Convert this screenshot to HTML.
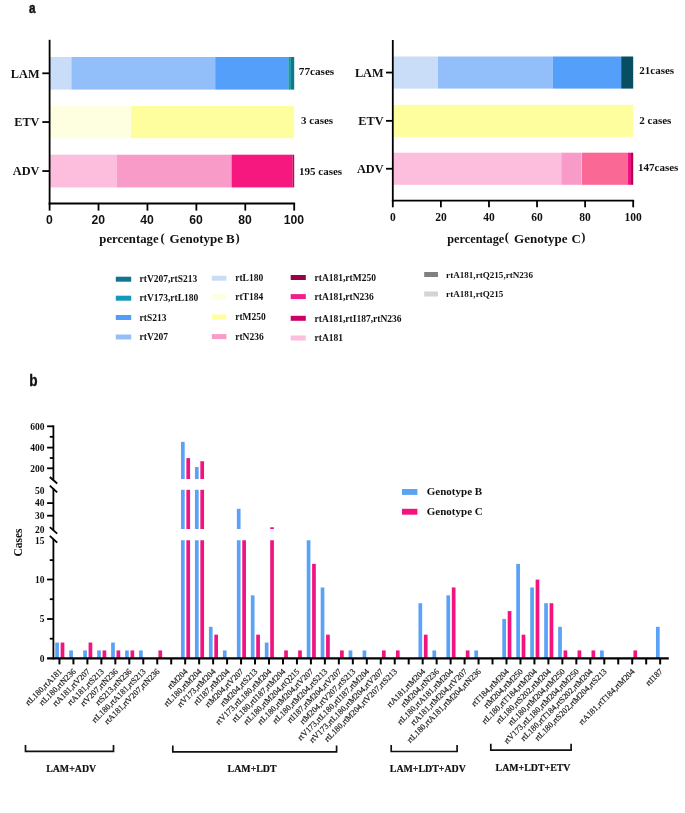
<!DOCTYPE html>
<html><head><meta charset="utf-8"><title>Genotype mutation patterns</title>
<style>
html,body{margin:0;padding:0;background:#fff;}
body{width:685px;height:813px;overflow:hidden;font-family:"Liberation Serif", serif;}
svg{display:block;will-change:transform;}
</style></head>
<body>
<svg width="685" height="813" viewBox="0 0 685 813">
<rect x="0" y="0" width="685" height="813" fill="#fff"/>
<text x="0.00" y="0.00" font-family='"Liberation Sans", sans-serif' font-size="14.6" font-weight="bold" text-anchor="start" fill="#111" stroke="#111" stroke-width="0.5" transform="translate(28.9,12.7) scale(0.8,1)">a</text>
<text x="0.00" y="0.00" font-family='"Liberation Sans", sans-serif' font-size="16" font-weight="bold" text-anchor="start" fill="#111" stroke="#111" stroke-width="0.35" transform="translate(29.3,385.8) scale(0.85,1)">b</text>
<rect x="49.60" y="57.00" width="21.77" height="32.60" fill="#c9ddf8"/>
<rect x="71.37" y="57.00" width="143.82" height="32.60" fill="#92bff9"/>
<rect x="215.19" y="57.00" width="73.14" height="32.60" fill="#549ffa"/>
<rect x="288.33" y="57.00" width="2.57" height="32.60" fill="#1697ad"/>
<rect x="290.90" y="57.00" width="3.30" height="32.60" fill="#0f7790"/>
<rect x="49.60" y="105.90" width="81.45" height="32.30" fill="#fefee0"/>
<rect x="131.05" y="105.90" width="163.15" height="32.30" fill="#fefe9e"/>
<rect x="49.60" y="154.70" width="67.27" height="32.70" fill="#fdbedd"/>
<rect x="116.87" y="154.70" width="114.72" height="32.70" fill="#f99bc9"/>
<rect x="231.58" y="154.70" width="60.91" height="32.70" fill="#f6177f"/>
<rect x="292.49" y="154.70" width="1.71" height="32.70" fill="#c4005a"/>
<line x1="49.60" y1="39.80" x2="49.60" y2="204.40" stroke="#000" stroke-width="1.8" stroke-linecap="butt"/>
<line x1="48.70" y1="203.50" x2="295.10" y2="203.50" stroke="#000" stroke-width="1.8" stroke-linecap="butt"/>
<line x1="49.60" y1="203.50" x2="49.60" y2="210.60" stroke="#000" stroke-width="1.8" stroke-linecap="butt"/>
<text x="49.30" y="223.80" font-family='"Liberation Sans", sans-serif' font-size="12.2" font-weight="bold" text-anchor="middle" fill="#111" >0</text>
<line x1="98.52" y1="203.50" x2="98.52" y2="210.60" stroke="#000" stroke-width="1.8" stroke-linecap="butt"/>
<text x="98.22" y="223.80" font-family='"Liberation Sans", sans-serif' font-size="12.2" font-weight="bold" text-anchor="middle" fill="#111" >20</text>
<line x1="147.44" y1="203.50" x2="147.44" y2="210.60" stroke="#000" stroke-width="1.8" stroke-linecap="butt"/>
<text x="147.14" y="223.80" font-family='"Liberation Sans", sans-serif' font-size="12.2" font-weight="bold" text-anchor="middle" fill="#111" >40</text>
<line x1="196.36" y1="203.50" x2="196.36" y2="210.60" stroke="#000" stroke-width="1.8" stroke-linecap="butt"/>
<text x="196.06" y="223.80" font-family='"Liberation Sans", sans-serif' font-size="12.2" font-weight="bold" text-anchor="middle" fill="#111" >60</text>
<line x1="245.28" y1="203.50" x2="245.28" y2="210.60" stroke="#000" stroke-width="1.8" stroke-linecap="butt"/>
<text x="244.98" y="223.80" font-family='"Liberation Sans", sans-serif' font-size="12.2" font-weight="bold" text-anchor="middle" fill="#111" >80</text>
<line x1="294.20" y1="203.50" x2="294.20" y2="210.60" stroke="#000" stroke-width="1.8" stroke-linecap="butt"/>
<text x="293.90" y="223.80" font-family='"Liberation Sans", sans-serif' font-size="12.2" font-weight="bold" text-anchor="middle" fill="#111" >100</text>
<line x1="42.30" y1="73.30" x2="49.60" y2="73.30" stroke="#000" stroke-width="1.8" stroke-linecap="butt"/>
<text x="39.50" y="77.50" font-family='"Liberation Serif", serif' font-size="12.3" font-weight="bold" text-anchor="end" fill="#111" >LAM</text>
<line x1="42.30" y1="122.05" x2="49.60" y2="122.05" stroke="#000" stroke-width="1.8" stroke-linecap="butt"/>
<text x="39.50" y="126.25" font-family='"Liberation Serif", serif' font-size="12.3" font-weight="bold" text-anchor="end" fill="#111" >ETV</text>
<line x1="42.30" y1="171.05" x2="49.60" y2="171.05" stroke="#000" stroke-width="1.8" stroke-linecap="butt"/>
<text x="39.50" y="175.25" font-family='"Liberation Serif", serif' font-size="12.3" font-weight="bold" text-anchor="end" fill="#111" >ADV</text>
<text x="298.80" y="75.00" font-family='"Liberation Serif", serif' font-size="11.2" font-weight="bold" text-anchor="start" fill="#111" >77cases</text>
<text x="301.00" y="124.20" font-family='"Liberation Serif", serif' font-size="11" font-weight="bold" text-anchor="start" fill="#111" >3 cases</text>
<text x="299.00" y="175.20" font-family='"Liberation Serif", serif' font-size="11" font-weight="bold" text-anchor="start" fill="#111" >195 cases</text>
<text x="99.30" y="243.40" font-family='"Liberation Serif", serif' font-size="12.75" font-weight="bold" text-anchor="start" fill="#111" >percentage</text>
<text x="160.60" y="241.60" font-family='"Liberation Serif", serif' font-size="12.5" font-weight="bold" text-anchor="start" fill="#111" >(</text>
<text x="169.60" y="243.40" font-family='"Liberation Serif", serif' font-size="13" font-weight="bold" text-anchor="start" fill="#111" >Genotype</text>
<text x="226.00" y="243.40" font-family='"Liberation Serif", serif' font-size="13" font-weight="bold" text-anchor="start" fill="#111" >B</text>
<text x="235.40" y="241.60" font-family='"Liberation Serif", serif' font-size="12.5" font-weight="bold" text-anchor="start" fill="#111" >)</text>
<rect x="392.80" y="56.50" width="45.20" height="32.10" fill="#c9ddf8"/>
<rect x="438.00" y="56.50" width="114.67" height="32.10" fill="#92bff9"/>
<rect x="552.67" y="56.50" width="68.51" height="32.10" fill="#549ffa"/>
<rect x="621.18" y="56.50" width="12.02" height="32.10" fill="#074e62"/>
<rect x="392.80" y="104.80" width="240.40" height="32.10" fill="#fefe9e"/>
<rect x="392.80" y="152.70" width="168.52" height="32.10" fill="#fdbedd"/>
<rect x="561.32" y="152.70" width="19.71" height="32.10" fill="#f99bc9"/>
<rect x="581.03" y="152.70" width="0.96" height="32.10" fill="#d0d0d0"/>
<rect x="581.99" y="152.70" width="45.92" height="32.10" fill="#fa6896"/>
<rect x="627.91" y="152.70" width="3.13" height="32.10" fill="#ee1283"/>
<rect x="631.04" y="152.70" width="2.16" height="32.10" fill="#b0004c"/>
<line x1="392.80" y1="40.00" x2="392.80" y2="201.50" stroke="#000" stroke-width="1.8" stroke-linecap="butt"/>
<line x1="391.90" y1="200.60" x2="634.10" y2="200.60" stroke="#000" stroke-width="1.8" stroke-linecap="butt"/>
<line x1="392.80" y1="200.60" x2="392.80" y2="207.30" stroke="#000" stroke-width="1.8" stroke-linecap="butt"/>
<text x="392.80" y="220.70" font-family='"Liberation Serif", serif' font-size="11.5" font-weight="bold" text-anchor="middle" fill="#111" >0</text>
<line x1="440.88" y1="200.60" x2="440.88" y2="207.30" stroke="#000" stroke-width="1.8" stroke-linecap="butt"/>
<text x="440.88" y="220.70" font-family='"Liberation Serif", serif' font-size="11.5" font-weight="bold" text-anchor="middle" fill="#111" >20</text>
<line x1="488.96" y1="200.60" x2="488.96" y2="207.30" stroke="#000" stroke-width="1.8" stroke-linecap="butt"/>
<text x="488.96" y="220.70" font-family='"Liberation Serif", serif' font-size="11.5" font-weight="bold" text-anchor="middle" fill="#111" >40</text>
<line x1="537.04" y1="200.60" x2="537.04" y2="207.30" stroke="#000" stroke-width="1.8" stroke-linecap="butt"/>
<text x="537.04" y="220.70" font-family='"Liberation Serif", serif' font-size="11.5" font-weight="bold" text-anchor="middle" fill="#111" >60</text>
<line x1="585.12" y1="200.60" x2="585.12" y2="207.30" stroke="#000" stroke-width="1.8" stroke-linecap="butt"/>
<text x="585.12" y="220.70" font-family='"Liberation Serif", serif' font-size="11.5" font-weight="bold" text-anchor="middle" fill="#111" >80</text>
<line x1="633.20" y1="200.60" x2="633.20" y2="207.30" stroke="#000" stroke-width="1.8" stroke-linecap="butt"/>
<text x="633.20" y="220.70" font-family='"Liberation Serif", serif' font-size="11.5" font-weight="bold" text-anchor="middle" fill="#111" >100</text>
<line x1="386.00" y1="72.55" x2="392.80" y2="72.55" stroke="#000" stroke-width="1.8" stroke-linecap="butt"/>
<text x="383.60" y="76.75" font-family='"Liberation Serif", serif' font-size="12.3" font-weight="bold" text-anchor="end" fill="#111" >LAM</text>
<line x1="386.00" y1="120.85" x2="392.80" y2="120.85" stroke="#000" stroke-width="1.8" stroke-linecap="butt"/>
<text x="383.60" y="125.05" font-family='"Liberation Serif", serif' font-size="12.3" font-weight="bold" text-anchor="end" fill="#111" >ETV</text>
<line x1="386.00" y1="168.75" x2="392.80" y2="168.75" stroke="#000" stroke-width="1.8" stroke-linecap="butt"/>
<text x="383.60" y="172.95" font-family='"Liberation Serif", serif' font-size="12.3" font-weight="bold" text-anchor="end" fill="#111" >ADV</text>
<text x="639.30" y="74.30" font-family='"Liberation Serif", serif' font-size="11" font-weight="bold" text-anchor="start" fill="#111" >21cases</text>
<text x="639.30" y="124.00" font-family='"Liberation Serif", serif' font-size="11" font-weight="bold" text-anchor="start" fill="#111" >2 cases</text>
<text x="638.00" y="171.30" font-family='"Liberation Serif", serif' font-size="11" font-weight="bold" text-anchor="start" fill="#111" >147cases</text>
<text x="447.30" y="243.20" font-family='"Liberation Serif", serif' font-size="12.25" font-weight="bold" text-anchor="start" fill="#111" >percentage</text>
<text x="504.80" y="241.40" font-family='"Liberation Serif", serif' font-size="12.5" font-weight="bold" text-anchor="start" fill="#111" >(</text>
<text x="514.10" y="243.20" font-family='"Liberation Serif", serif' font-size="13" font-weight="bold" text-anchor="start" fill="#111" >Genotype</text>
<text x="571.40" y="243.20" font-family='"Liberation Serif", serif' font-size="13" font-weight="bold" text-anchor="start" fill="#111" >C</text>
<text x="581.30" y="241.40" font-family='"Liberation Serif", serif' font-size="12.5" font-weight="bold" text-anchor="start" fill="#111" >)</text>
<rect x="115.80" y="276.70" width="15.40" height="5.00" fill="#0f7590"/>
<text x="139.50" y="282.40" font-family='"Liberation Serif", serif' font-size="9.5" font-weight="bold" text-anchor="start" fill="#111" >rtV207,rtS213</text>
<rect x="115.80" y="295.70" width="15.40" height="5.00" fill="#1498bb"/>
<text x="139.50" y="301.40" font-family='"Liberation Serif", serif' font-size="9.5" font-weight="bold" text-anchor="start" fill="#111" >rtV173,rtL180</text>
<rect x="115.80" y="315.00" width="15.40" height="5.00" fill="#529df8"/>
<text x="139.50" y="320.70" font-family='"Liberation Serif", serif' font-size="9.5" font-weight="bold" text-anchor="start" fill="#111" >rtS213</text>
<rect x="115.80" y="334.50" width="15.40" height="5.00" fill="#93bff6"/>
<text x="139.50" y="340.20" font-family='"Liberation Serif", serif' font-size="9.5" font-weight="bold" text-anchor="start" fill="#111" >rtV207</text>
<rect x="211.80" y="275.70" width="14.60" height="5.00" fill="#c9ddf8"/>
<text x="235.20" y="281.40" font-family='"Liberation Serif", serif' font-size="9.5" font-weight="bold" text-anchor="start" fill="#111" >rtL180</text>
<rect x="211.80" y="294.50" width="14.60" height="5.00" fill="#fefee0"/>
<text x="235.20" y="300.20" font-family='"Liberation Serif", serif' font-size="9.5" font-weight="bold" text-anchor="start" fill="#111" >rtT184</text>
<rect x="211.80" y="314.50" width="14.60" height="5.00" fill="#fefe9e"/>
<text x="235.20" y="320.20" font-family='"Liberation Serif", serif' font-size="9.5" font-weight="bold" text-anchor="start" fill="#111" >rtM250</text>
<rect x="211.80" y="334.10" width="14.60" height="5.00" fill="#f99bc9"/>
<text x="235.20" y="339.80" font-family='"Liberation Serif", serif' font-size="9.5" font-weight="bold" text-anchor="start" fill="#111" >rtN236</text>
<rect x="290.70" y="275.00" width="15.10" height="5.00" fill="#990047"/>
<text x="314.50" y="280.70" font-family='"Liberation Serif", serif' font-size="9.5" font-weight="bold" text-anchor="start" fill="#111" >rtA181,rtM250</text>
<rect x="290.70" y="294.10" width="15.10" height="5.00" fill="#f01d8c"/>
<text x="314.50" y="299.80" font-family='"Liberation Serif", serif' font-size="9.5" font-weight="bold" text-anchor="start" fill="#111" >rtA181,rtN236</text>
<rect x="290.70" y="315.80" width="15.10" height="5.00" fill="#cc0066"/>
<text x="314.50" y="321.50" font-family='"Liberation Serif", serif' font-size="9.5" font-weight="bold" text-anchor="start" fill="#111" >rtA181,rtI187,rtN236</text>
<rect x="290.70" y="335.50" width="15.10" height="5.00" fill="#fdbedd"/>
<text x="314.50" y="341.20" font-family='"Liberation Serif", serif' font-size="9.5" font-weight="bold" text-anchor="start" fill="#111" >rtA181</text>
<rect x="424.20" y="272.00" width="13.80" height="5.00" fill="#808080"/>
<text x="446.10" y="277.70" font-family='"Liberation Serif", serif' font-size="9.1" font-weight="bold" text-anchor="start" fill="#111" >rtA181,rtQ215,rtN236</text>
<rect x="424.20" y="291.50" width="13.80" height="5.00" fill="#d4d4d4"/>
<text x="446.10" y="297.20" font-family='"Liberation Serif", serif' font-size="9.1" font-weight="bold" text-anchor="start" fill="#111" >rtA181,rtQ215</text>
<rect x="55.25" y="642.56" width="3.70" height="15.74" fill="#5aa2f7"/>
<rect x="60.65" y="642.56" width="3.70" height="15.74" fill="#f2137f"/>
<rect x="69.22" y="650.43" width="3.70" height="7.87" fill="#5aa2f7"/>
<rect x="83.19" y="650.43" width="3.70" height="7.87" fill="#5aa2f7"/>
<rect x="88.59" y="642.56" width="3.70" height="15.74" fill="#f2137f"/>
<rect x="97.16" y="650.43" width="3.70" height="7.87" fill="#5aa2f7"/>
<rect x="102.56" y="650.43" width="3.70" height="7.87" fill="#f2137f"/>
<rect x="111.13" y="642.56" width="3.70" height="15.74" fill="#5aa2f7"/>
<rect x="116.53" y="650.43" width="3.70" height="7.87" fill="#f2137f"/>
<rect x="125.10" y="650.43" width="3.70" height="7.87" fill="#5aa2f7"/>
<rect x="130.50" y="650.43" width="3.70" height="7.87" fill="#f2137f"/>
<rect x="139.07" y="650.43" width="3.70" height="7.87" fill="#5aa2f7"/>
<rect x="158.44" y="650.43" width="3.70" height="7.87" fill="#f2137f"/>
<rect x="180.98" y="540.25" width="3.70" height="118.05" fill="#5aa2f7"/>
<rect x="180.98" y="489.80" width="3.70" height="39.20" fill="#5aa2f7"/>
<rect x="180.98" y="441.87" width="3.70" height="37.13" fill="#5aa2f7"/>
<rect x="186.38" y="540.25" width="3.70" height="118.05" fill="#f2137f"/>
<rect x="186.38" y="489.80" width="3.70" height="39.20" fill="#f2137f"/>
<rect x="186.38" y="458.09" width="3.70" height="20.91" fill="#f2137f"/>
<rect x="194.95" y="540.25" width="3.70" height="118.05" fill="#5aa2f7"/>
<rect x="194.95" y="489.80" width="3.70" height="39.20" fill="#5aa2f7"/>
<rect x="194.95" y="467.04" width="3.70" height="11.96" fill="#5aa2f7"/>
<rect x="200.35" y="540.25" width="3.70" height="118.05" fill="#f2137f"/>
<rect x="200.35" y="489.80" width="3.70" height="39.20" fill="#f2137f"/>
<rect x="200.35" y="461.24" width="3.70" height="17.76" fill="#f2137f"/>
<rect x="208.92" y="626.82" width="3.70" height="31.48" fill="#5aa2f7"/>
<rect x="214.32" y="634.69" width="3.70" height="23.61" fill="#f2137f"/>
<rect x="222.89" y="650.43" width="3.70" height="7.87" fill="#5aa2f7"/>
<rect x="236.86" y="540.25" width="3.70" height="118.05" fill="#5aa2f7"/>
<rect x="236.86" y="508.80" width="3.70" height="20.20" fill="#5aa2f7"/>
<rect x="242.26" y="540.25" width="3.70" height="118.05" fill="#f2137f"/>
<rect x="250.83" y="595.34" width="3.70" height="62.96" fill="#5aa2f7"/>
<rect x="256.23" y="634.69" width="3.70" height="23.61" fill="#f2137f"/>
<rect x="264.80" y="642.56" width="3.70" height="15.74" fill="#5aa2f7"/>
<rect x="270.20" y="540.25" width="3.70" height="118.05" fill="#f2137f"/>
<rect x="270.20" y="527.26" width="3.70" height="1.74" fill="#f2137f"/>
<rect x="284.17" y="650.43" width="3.70" height="7.87" fill="#f2137f"/>
<rect x="298.14" y="650.43" width="3.70" height="7.87" fill="#f2137f"/>
<rect x="306.71" y="540.25" width="3.70" height="118.05" fill="#5aa2f7"/>
<rect x="312.11" y="563.86" width="3.70" height="94.44" fill="#f2137f"/>
<rect x="320.68" y="587.47" width="3.70" height="70.83" fill="#5aa2f7"/>
<rect x="326.08" y="634.69" width="3.70" height="23.61" fill="#f2137f"/>
<rect x="340.05" y="650.43" width="3.70" height="7.87" fill="#f2137f"/>
<rect x="348.62" y="650.43" width="3.70" height="7.87" fill="#5aa2f7"/>
<rect x="362.59" y="650.43" width="3.70" height="7.87" fill="#5aa2f7"/>
<rect x="381.96" y="650.43" width="3.70" height="7.87" fill="#f2137f"/>
<rect x="395.93" y="650.43" width="3.70" height="7.87" fill="#f2137f"/>
<rect x="418.47" y="603.21" width="3.70" height="55.09" fill="#5aa2f7"/>
<rect x="423.87" y="634.69" width="3.70" height="23.61" fill="#f2137f"/>
<rect x="432.44" y="650.43" width="3.70" height="7.87" fill="#5aa2f7"/>
<rect x="446.41" y="595.34" width="3.70" height="62.96" fill="#5aa2f7"/>
<rect x="451.81" y="587.47" width="3.70" height="70.83" fill="#f2137f"/>
<rect x="465.78" y="650.43" width="3.70" height="7.87" fill="#f2137f"/>
<rect x="474.35" y="650.43" width="3.70" height="7.87" fill="#5aa2f7"/>
<rect x="502.29" y="618.95" width="3.70" height="39.35" fill="#5aa2f7"/>
<rect x="507.69" y="611.08" width="3.70" height="47.22" fill="#f2137f"/>
<rect x="516.26" y="563.86" width="3.70" height="94.44" fill="#5aa2f7"/>
<rect x="521.66" y="634.69" width="3.70" height="23.61" fill="#f2137f"/>
<rect x="530.23" y="587.47" width="3.70" height="70.83" fill="#5aa2f7"/>
<rect x="535.63" y="579.60" width="3.70" height="78.70" fill="#f2137f"/>
<rect x="544.20" y="603.21" width="3.70" height="55.09" fill="#5aa2f7"/>
<rect x="549.60" y="603.21" width="3.70" height="55.09" fill="#f2137f"/>
<rect x="558.17" y="626.82" width="3.70" height="31.48" fill="#5aa2f7"/>
<rect x="563.57" y="650.43" width="3.70" height="7.87" fill="#f2137f"/>
<rect x="577.54" y="650.43" width="3.70" height="7.87" fill="#f2137f"/>
<rect x="591.51" y="650.43" width="3.70" height="7.87" fill="#f2137f"/>
<rect x="600.08" y="650.43" width="3.70" height="7.87" fill="#5aa2f7"/>
<rect x="633.42" y="650.43" width="3.70" height="7.87" fill="#f2137f"/>
<rect x="655.96" y="626.82" width="3.70" height="31.48" fill="#5aa2f7"/>
<line x1="53.40" y1="425.40" x2="53.40" y2="479.80" stroke="#000" stroke-width="1.8" stroke-linecap="butt"/>
<line x1="53.40" y1="488.50" x2="53.40" y2="530.00" stroke="#000" stroke-width="1.8" stroke-linecap="butt"/>
<line x1="53.40" y1="539.00" x2="53.40" y2="659.40" stroke="#000" stroke-width="1.8" stroke-linecap="butt"/>
<line x1="47.10" y1="658.30" x2="668.80" y2="658.30" stroke="#000" stroke-width="2.2" stroke-linecap="butt"/>
<line x1="49.80" y1="477.00" x2="57.20" y2="483.50" stroke="#000" stroke-width="1.8" stroke-linecap="butt"/>
<line x1="49.80" y1="485.60" x2="57.20" y2="492.40" stroke="#000" stroke-width="1.8" stroke-linecap="butt"/>
<line x1="49.80" y1="527.10" x2="57.20" y2="533.60" stroke="#000" stroke-width="1.8" stroke-linecap="butt"/>
<line x1="49.80" y1="535.80" x2="57.20" y2="542.60" stroke="#000" stroke-width="1.8" stroke-linecap="butt"/>
<line x1="47.10" y1="426.30" x2="53.40" y2="426.30" stroke="#000" stroke-width="1.8" stroke-linecap="butt"/>
<line x1="47.10" y1="447.60" x2="53.40" y2="447.60" stroke="#000" stroke-width="1.8" stroke-linecap="butt"/>
<line x1="47.10" y1="468.30" x2="53.40" y2="468.30" stroke="#000" stroke-width="1.8" stroke-linecap="butt"/>
<line x1="47.10" y1="503.10" x2="53.40" y2="503.10" stroke="#000" stroke-width="1.8" stroke-linecap="butt"/>
<line x1="47.10" y1="515.70" x2="53.40" y2="515.70" stroke="#000" stroke-width="1.8" stroke-linecap="butt"/>
<line x1="47.10" y1="579.50" x2="53.40" y2="579.50" stroke="#000" stroke-width="1.8" stroke-linecap="butt"/>
<line x1="47.10" y1="619.00" x2="53.40" y2="619.00" stroke="#000" stroke-width="1.8" stroke-linecap="butt"/>
<line x1="49.80" y1="436.80" x2="53.40" y2="436.80" stroke="#000" stroke-width="1.8" stroke-linecap="butt"/>
<line x1="49.80" y1="458.00" x2="53.40" y2="458.00" stroke="#000" stroke-width="1.8" stroke-linecap="butt"/>
<line x1="49.80" y1="560.10" x2="53.40" y2="560.10" stroke="#000" stroke-width="1.8" stroke-linecap="butt"/>
<line x1="49.80" y1="599.20" x2="53.40" y2="599.20" stroke="#000" stroke-width="1.8" stroke-linecap="butt"/>
<line x1="49.80" y1="638.70" x2="53.40" y2="638.70" stroke="#000" stroke-width="1.8" stroke-linecap="butt"/>
<text x="44.60" y="429.60" font-family='"Liberation Serif", serif' font-size="9.5" font-weight="bold" text-anchor="end" fill="#111" >600</text>
<text x="44.60" y="450.90" font-family='"Liberation Serif", serif' font-size="9.5" font-weight="bold" text-anchor="end" fill="#111" >400</text>
<text x="44.60" y="471.60" font-family='"Liberation Serif", serif' font-size="9.5" font-weight="bold" text-anchor="end" fill="#111" >200</text>
<text x="44.60" y="493.90" font-family='"Liberation Serif", serif' font-size="9.5" font-weight="bold" text-anchor="end" fill="#111" >50</text>
<text x="44.60" y="506.40" font-family='"Liberation Serif", serif' font-size="9.5" font-weight="bold" text-anchor="end" fill="#111" >40</text>
<text x="44.60" y="519.00" font-family='"Liberation Serif", serif' font-size="9.5" font-weight="bold" text-anchor="end" fill="#111" >30</text>
<text x="44.60" y="532.70" font-family='"Liberation Serif", serif' font-size="9.5" font-weight="bold" text-anchor="end" fill="#111" >20</text>
<text x="44.60" y="543.90" font-family='"Liberation Serif", serif' font-size="9.5" font-weight="bold" text-anchor="end" fill="#111" >15</text>
<text x="44.60" y="582.80" font-family='"Liberation Serif", serif' font-size="9.5" font-weight="bold" text-anchor="end" fill="#111" >10</text>
<text x="44.60" y="622.30" font-family='"Liberation Serif", serif' font-size="9.5" font-weight="bold" text-anchor="end" fill="#111" >5</text>
<text x="44.60" y="661.70" font-family='"Liberation Serif", serif' font-size="9.5" font-weight="bold" text-anchor="end" fill="#111" >0</text>
<line x1="59.45" y1="658.30" x2="59.45" y2="664.40" stroke="#000" stroke-width="2.0" stroke-linecap="butt"/>
<line x1="73.42" y1="658.30" x2="73.42" y2="664.40" stroke="#000" stroke-width="2.0" stroke-linecap="butt"/>
<line x1="87.39" y1="658.30" x2="87.39" y2="664.40" stroke="#000" stroke-width="2.0" stroke-linecap="butt"/>
<line x1="101.36" y1="658.30" x2="101.36" y2="664.40" stroke="#000" stroke-width="2.0" stroke-linecap="butt"/>
<line x1="115.33" y1="658.30" x2="115.33" y2="664.40" stroke="#000" stroke-width="2.0" stroke-linecap="butt"/>
<line x1="129.30" y1="658.30" x2="129.30" y2="664.40" stroke="#000" stroke-width="2.0" stroke-linecap="butt"/>
<line x1="143.27" y1="658.30" x2="143.27" y2="664.40" stroke="#000" stroke-width="2.0" stroke-linecap="butt"/>
<line x1="157.24" y1="658.30" x2="157.24" y2="664.40" stroke="#000" stroke-width="2.0" stroke-linecap="butt"/>
<line x1="171.21" y1="658.30" x2="171.21" y2="664.40" stroke="#000" stroke-width="2.0" stroke-linecap="butt"/>
<line x1="185.18" y1="658.30" x2="185.18" y2="664.40" stroke="#000" stroke-width="2.0" stroke-linecap="butt"/>
<line x1="199.15" y1="658.30" x2="199.15" y2="664.40" stroke="#000" stroke-width="2.0" stroke-linecap="butt"/>
<line x1="213.12" y1="658.30" x2="213.12" y2="664.40" stroke="#000" stroke-width="2.0" stroke-linecap="butt"/>
<line x1="227.09" y1="658.30" x2="227.09" y2="664.40" stroke="#000" stroke-width="2.0" stroke-linecap="butt"/>
<line x1="241.06" y1="658.30" x2="241.06" y2="664.40" stroke="#000" stroke-width="2.0" stroke-linecap="butt"/>
<line x1="255.03" y1="658.30" x2="255.03" y2="664.40" stroke="#000" stroke-width="2.0" stroke-linecap="butt"/>
<line x1="269.00" y1="658.30" x2="269.00" y2="664.40" stroke="#000" stroke-width="2.0" stroke-linecap="butt"/>
<line x1="282.97" y1="658.30" x2="282.97" y2="664.40" stroke="#000" stroke-width="2.0" stroke-linecap="butt"/>
<line x1="296.94" y1="658.30" x2="296.94" y2="664.40" stroke="#000" stroke-width="2.0" stroke-linecap="butt"/>
<line x1="310.91" y1="658.30" x2="310.91" y2="664.40" stroke="#000" stroke-width="2.0" stroke-linecap="butt"/>
<line x1="324.88" y1="658.30" x2="324.88" y2="664.40" stroke="#000" stroke-width="2.0" stroke-linecap="butt"/>
<line x1="338.85" y1="658.30" x2="338.85" y2="664.40" stroke="#000" stroke-width="2.0" stroke-linecap="butt"/>
<line x1="352.82" y1="658.30" x2="352.82" y2="664.40" stroke="#000" stroke-width="2.0" stroke-linecap="butt"/>
<line x1="366.79" y1="658.30" x2="366.79" y2="664.40" stroke="#000" stroke-width="2.0" stroke-linecap="butt"/>
<line x1="380.76" y1="658.30" x2="380.76" y2="664.40" stroke="#000" stroke-width="2.0" stroke-linecap="butt"/>
<line x1="394.73" y1="658.30" x2="394.73" y2="664.40" stroke="#000" stroke-width="2.0" stroke-linecap="butt"/>
<line x1="408.70" y1="658.30" x2="408.70" y2="664.40" stroke="#000" stroke-width="2.0" stroke-linecap="butt"/>
<line x1="422.67" y1="658.30" x2="422.67" y2="664.40" stroke="#000" stroke-width="2.0" stroke-linecap="butt"/>
<line x1="436.64" y1="658.30" x2="436.64" y2="664.40" stroke="#000" stroke-width="2.0" stroke-linecap="butt"/>
<line x1="450.61" y1="658.30" x2="450.61" y2="664.40" stroke="#000" stroke-width="2.0" stroke-linecap="butt"/>
<line x1="464.58" y1="658.30" x2="464.58" y2="664.40" stroke="#000" stroke-width="2.0" stroke-linecap="butt"/>
<line x1="478.55" y1="658.30" x2="478.55" y2="664.40" stroke="#000" stroke-width="2.0" stroke-linecap="butt"/>
<line x1="492.52" y1="658.30" x2="492.52" y2="664.40" stroke="#000" stroke-width="2.0" stroke-linecap="butt"/>
<line x1="506.49" y1="658.30" x2="506.49" y2="664.40" stroke="#000" stroke-width="2.0" stroke-linecap="butt"/>
<line x1="520.46" y1="658.30" x2="520.46" y2="664.40" stroke="#000" stroke-width="2.0" stroke-linecap="butt"/>
<line x1="534.43" y1="658.30" x2="534.43" y2="664.40" stroke="#000" stroke-width="2.0" stroke-linecap="butt"/>
<line x1="548.40" y1="658.30" x2="548.40" y2="664.40" stroke="#000" stroke-width="2.0" stroke-linecap="butt"/>
<line x1="562.37" y1="658.30" x2="562.37" y2="664.40" stroke="#000" stroke-width="2.0" stroke-linecap="butt"/>
<line x1="576.34" y1="658.30" x2="576.34" y2="664.40" stroke="#000" stroke-width="2.0" stroke-linecap="butt"/>
<line x1="590.31" y1="658.30" x2="590.31" y2="664.40" stroke="#000" stroke-width="2.0" stroke-linecap="butt"/>
<line x1="604.28" y1="658.30" x2="604.28" y2="664.40" stroke="#000" stroke-width="2.0" stroke-linecap="butt"/>
<line x1="618.25" y1="658.30" x2="618.25" y2="664.40" stroke="#000" stroke-width="2.0" stroke-linecap="butt"/>
<line x1="632.22" y1="658.30" x2="632.22" y2="664.40" stroke="#000" stroke-width="2.0" stroke-linecap="butt"/>
<line x1="646.19" y1="658.30" x2="646.19" y2="664.40" stroke="#000" stroke-width="2.0" stroke-linecap="butt"/>
<line x1="660.16" y1="658.30" x2="660.16" y2="664.40" stroke="#000" stroke-width="2.0" stroke-linecap="butt"/>
<text x="0.00" y="0.00" font-family='"Liberation Serif", serif' font-size="8.3" font-weight="normal" text-anchor="end" fill="#1a1a1a" stroke="#1a1a1a" stroke-width="0.18" transform="translate(62.45,672.00) rotate(-45)">rtL180,rtA181</text>
<text x="0.00" y="0.00" font-family='"Liberation Serif", serif' font-size="8.3" font-weight="normal" text-anchor="end" fill="#1a1a1a" stroke="#1a1a1a" stroke-width="0.18" transform="translate(76.42,672.00) rotate(-45)">rtL180,rtN236</text>
<text x="0.00" y="0.00" font-family='"Liberation Serif", serif' font-size="8.3" font-weight="normal" text-anchor="end" fill="#1a1a1a" stroke="#1a1a1a" stroke-width="0.18" transform="translate(90.39,672.00) rotate(-45)">rtA181,rtV207</text>
<text x="0.00" y="0.00" font-family='"Liberation Serif", serif' font-size="8.3" font-weight="normal" text-anchor="end" fill="#1a1a1a" stroke="#1a1a1a" stroke-width="0.18" transform="translate(104.36,672.00) rotate(-45)">rtA181,rtS213</text>
<text x="0.00" y="0.00" font-family='"Liberation Serif", serif' font-size="8.3" font-weight="normal" text-anchor="end" fill="#1a1a1a" stroke="#1a1a1a" stroke-width="0.18" transform="translate(118.33,672.00) rotate(-45)">rtV207,rtN236</text>
<text x="0.00" y="0.00" font-family='"Liberation Serif", serif' font-size="8.3" font-weight="normal" text-anchor="end" fill="#1a1a1a" stroke="#1a1a1a" stroke-width="0.18" transform="translate(132.30,672.00) rotate(-45)">rtS213,rtN236</text>
<text x="0.00" y="0.00" font-family='"Liberation Serif", serif' font-size="8.3" font-weight="normal" text-anchor="end" fill="#1a1a1a" stroke="#1a1a1a" stroke-width="0.18" transform="translate(146.27,672.00) rotate(-45)">rtL180,rtA181,rtS213</text>
<text x="0.00" y="0.00" font-family='"Liberation Serif", serif' font-size="8.3" font-weight="normal" text-anchor="end" fill="#1a1a1a" stroke="#1a1a1a" stroke-width="0.18" transform="translate(160.24,672.00) rotate(-45)">rtA181,rtV207,rtN236</text>
<text x="0.00" y="0.00" font-family='"Liberation Serif", serif' font-size="8.3" font-weight="normal" text-anchor="end" fill="#1a1a1a" stroke="#1a1a1a" stroke-width="0.18" transform="translate(188.18,672.00) rotate(-45)">rtM204</text>
<text x="0.00" y="0.00" font-family='"Liberation Serif", serif' font-size="8.3" font-weight="normal" text-anchor="end" fill="#1a1a1a" stroke="#1a1a1a" stroke-width="0.18" transform="translate(202.15,672.00) rotate(-45)">rtL180,rtM204</text>
<text x="0.00" y="0.00" font-family='"Liberation Serif", serif' font-size="8.3" font-weight="normal" text-anchor="end" fill="#1a1a1a" stroke="#1a1a1a" stroke-width="0.18" transform="translate(216.12,672.00) rotate(-45)">rtV173,rtM204</text>
<text x="0.00" y="0.00" font-family='"Liberation Serif", serif' font-size="8.3" font-weight="normal" text-anchor="end" fill="#1a1a1a" stroke="#1a1a1a" stroke-width="0.18" transform="translate(230.09,672.00) rotate(-45)">rtI187,rtM204</text>
<text x="0.00" y="0.00" font-family='"Liberation Serif", serif' font-size="8.3" font-weight="normal" text-anchor="end" fill="#1a1a1a" stroke="#1a1a1a" stroke-width="0.18" transform="translate(244.06,672.00) rotate(-45)">rtM204,rtV207</text>
<text x="0.00" y="0.00" font-family='"Liberation Serif", serif' font-size="8.3" font-weight="normal" text-anchor="end" fill="#1a1a1a" stroke="#1a1a1a" stroke-width="0.18" transform="translate(258.03,672.00) rotate(-45)">rtM204,rtS213</text>
<text x="0.00" y="0.00" font-family='"Liberation Serif", serif' font-size="8.3" font-weight="normal" text-anchor="end" fill="#1a1a1a" stroke="#1a1a1a" stroke-width="0.18" transform="translate(272.00,672.00) rotate(-45)">rtV173,rtL180,rtM204</text>
<text x="0.00" y="0.00" font-family='"Liberation Serif", serif' font-size="8.3" font-weight="normal" text-anchor="end" fill="#1a1a1a" stroke="#1a1a1a" stroke-width="0.18" transform="translate(285.97,672.00) rotate(-45)">rtL180,rtI187,rtM204</text>
<text x="0.00" y="0.00" font-family='"Liberation Serif", serif' font-size="8.3" font-weight="normal" text-anchor="end" fill="#1a1a1a" stroke="#1a1a1a" stroke-width="0.18" transform="translate(299.94,672.00) rotate(-45)">rtL180,rtM204,rtQ215</text>
<text x="0.00" y="0.00" font-family='"Liberation Serif", serif' font-size="8.3" font-weight="normal" text-anchor="end" fill="#1a1a1a" stroke="#1a1a1a" stroke-width="0.18" transform="translate(313.91,672.00) rotate(-45)">rtL180,rtM204,rtV207</text>
<text x="0.00" y="0.00" font-family='"Liberation Serif", serif' font-size="8.3" font-weight="normal" text-anchor="end" fill="#1a1a1a" stroke="#1a1a1a" stroke-width="0.18" transform="translate(327.88,672.00) rotate(-45)">rtL180,rtM204,rtS213</text>
<text x="0.00" y="0.00" font-family='"Liberation Serif", serif' font-size="8.3" font-weight="normal" text-anchor="end" fill="#1a1a1a" stroke="#1a1a1a" stroke-width="0.18" transform="translate(341.85,672.00) rotate(-45)">rtI187,rtM204,rtV207</text>
<text x="0.00" y="0.00" font-family='"Liberation Serif", serif' font-size="8.3" font-weight="normal" text-anchor="end" fill="#1a1a1a" stroke="#1a1a1a" stroke-width="0.18" transform="translate(355.82,672.00) rotate(-45)">rtM204,rtV207,rtS213</text>
<text x="0.00" y="0.00" font-family='"Liberation Serif", serif' font-size="8.3" font-weight="normal" text-anchor="end" fill="#1a1a1a" stroke="#1a1a1a" stroke-width="0.18" transform="translate(369.79,672.00) rotate(-45)">rtV173,rtL180,rtI187,rtM204</text>
<text x="0.00" y="0.00" font-family='"Liberation Serif", serif' font-size="8.3" font-weight="normal" text-anchor="end" fill="#1a1a1a" stroke="#1a1a1a" stroke-width="0.18" transform="translate(383.76,672.00) rotate(-45)">rtV173,rtL180,rtM204,rtV207</text>
<text x="0.00" y="0.00" font-family='"Liberation Serif", serif' font-size="8.3" font-weight="normal" text-anchor="end" fill="#1a1a1a" stroke="#1a1a1a" stroke-width="0.18" transform="translate(397.73,672.00) rotate(-45)">rtL180,rtM204,rtV207,rtS213</text>
<text x="0.00" y="0.00" font-family='"Liberation Serif", serif' font-size="8.3" font-weight="normal" text-anchor="end" fill="#1a1a1a" stroke="#1a1a1a" stroke-width="0.18" transform="translate(425.67,672.00) rotate(-45)">rtA181,rtM204</text>
<text x="0.00" y="0.00" font-family='"Liberation Serif", serif' font-size="8.3" font-weight="normal" text-anchor="end" fill="#1a1a1a" stroke="#1a1a1a" stroke-width="0.18" transform="translate(439.64,672.00) rotate(-45)">rtM204,rtN236</text>
<text x="0.00" y="0.00" font-family='"Liberation Serif", serif' font-size="8.3" font-weight="normal" text-anchor="end" fill="#1a1a1a" stroke="#1a1a1a" stroke-width="0.18" transform="translate(453.61,672.00) rotate(-45)">rtL180,rtA181,rtM204</text>
<text x="0.00" y="0.00" font-family='"Liberation Serif", serif' font-size="8.3" font-weight="normal" text-anchor="end" fill="#1a1a1a" stroke="#1a1a1a" stroke-width="0.18" transform="translate(467.58,672.00) rotate(-45)">rtA181,rtM204,rtV207</text>
<text x="0.00" y="0.00" font-family='"Liberation Serif", serif' font-size="8.3" font-weight="normal" text-anchor="end" fill="#1a1a1a" stroke="#1a1a1a" stroke-width="0.18" transform="translate(481.55,672.00) rotate(-45)">rtL180,rtA181,rtM204,rtN236</text>
<text x="0.00" y="0.00" font-family='"Liberation Serif", serif' font-size="8.3" font-weight="normal" text-anchor="end" fill="#1a1a1a" stroke="#1a1a1a" stroke-width="0.18" transform="translate(509.49,672.00) rotate(-45)">rtT184,rtM204</text>
<text x="0.00" y="0.00" font-family='"Liberation Serif", serif' font-size="8.3" font-weight="normal" text-anchor="end" fill="#1a1a1a" stroke="#1a1a1a" stroke-width="0.18" transform="translate(523.46,672.00) rotate(-45)">rtM204,rtM250</text>
<text x="0.00" y="0.00" font-family='"Liberation Serif", serif' font-size="8.3" font-weight="normal" text-anchor="end" fill="#1a1a1a" stroke="#1a1a1a" stroke-width="0.18" transform="translate(537.43,672.00) rotate(-45)">rtL180,rtT184,rtM204</text>
<text x="0.00" y="0.00" font-family='"Liberation Serif", serif' font-size="8.3" font-weight="normal" text-anchor="end" fill="#1a1a1a" stroke="#1a1a1a" stroke-width="0.18" transform="translate(551.40,672.00) rotate(-45)">rtL180,rtS202,rtM204</text>
<text x="0.00" y="0.00" font-family='"Liberation Serif", serif' font-size="8.3" font-weight="normal" text-anchor="end" fill="#1a1a1a" stroke="#1a1a1a" stroke-width="0.18" transform="translate(565.37,672.00) rotate(-45)">rtL180,rtM204,rtM250</text>
<text x="0.00" y="0.00" font-family='"Liberation Serif", serif' font-size="8.3" font-weight="normal" text-anchor="end" fill="#1a1a1a" stroke="#1a1a1a" stroke-width="0.18" transform="translate(579.34,672.00) rotate(-45)">rtV173,rtL180,rtM204,rtM250</text>
<text x="0.00" y="0.00" font-family='"Liberation Serif", serif' font-size="8.3" font-weight="normal" text-anchor="end" fill="#1a1a1a" stroke="#1a1a1a" stroke-width="0.18" transform="translate(593.31,672.00) rotate(-45)">rtL180,rtT184,rtS202,rtM204</text>
<text x="0.00" y="0.00" font-family='"Liberation Serif", serif' font-size="8.3" font-weight="normal" text-anchor="end" fill="#1a1a1a" stroke="#1a1a1a" stroke-width="0.18" transform="translate(607.28,672.00) rotate(-45)">rtL180,rtS202,rtM204,rtS213</text>
<text x="0.00" y="0.00" font-family='"Liberation Serif", serif' font-size="8.3" font-weight="normal" text-anchor="end" fill="#1a1a1a" stroke="#1a1a1a" stroke-width="0.18" transform="translate(635.22,672.00) rotate(-45)">rtA181,rtT184,rtM204</text>
<text x="0.00" y="0.00" font-family='"Liberation Serif", serif' font-size="8.3" font-weight="normal" text-anchor="end" fill="#1a1a1a" stroke="#1a1a1a" stroke-width="0.18" transform="translate(663.16,672.00) rotate(-45)">rtI187</text>
<text x="0.00" y="0.00" font-family='"Liberation Serif", serif' font-size="11.5" font-weight="bold" text-anchor="middle" fill="#111" transform="translate(22,542.5) rotate(-90)">Cases</text>
<rect x="402.00" y="489.00" width="15.40" height="5.90" fill="#5aa2f7"/>
<rect x="402.00" y="508.80" width="15.40" height="5.90" fill="#f2137f"/>
<text x="426.80" y="495.30" font-family='"Liberation Serif", serif' font-size="11" font-weight="bold" text-anchor="start" fill="#111" >Genotype B</text>
<text x="426.80" y="515.00" font-family='"Liberation Serif", serif' font-size="11" font-weight="bold" text-anchor="start" fill="#111" >Genotype C</text>
<polyline points="25.50,744.90 25.50,751.40 113.50,751.40 113.50,744.90" fill="none" stroke="#111" stroke-width="1.7"/>
<polyline points="172.80,745.40 172.80,751.80 336.60,751.80 336.60,745.40" fill="none" stroke="#111" stroke-width="1.7"/>
<polyline points="391.20,745.10 391.20,751.50 457.10,751.50 457.10,745.10" fill="none" stroke="#111" stroke-width="1.7"/>
<polyline points="490.80,743.80 490.80,750.20 571.10,750.20 571.10,743.80" fill="none" stroke="#111" stroke-width="1.7"/>
<text x="71.20" y="772.40" font-family='"Liberation Serif", serif' font-size="9.9" font-weight="bold" text-anchor="middle" fill="#111" stroke="#111" stroke-width="0.2">LAM+ADV</text>
<text x="252.10" y="772.40" font-family='"Liberation Serif", serif' font-size="9.9" font-weight="bold" text-anchor="middle" fill="#111" stroke="#111" stroke-width="0.2">LAM+LDT</text>
<text x="427.80" y="771.70" font-family='"Liberation Serif", serif' font-size="9.9" font-weight="bold" text-anchor="middle" fill="#111" stroke="#111" stroke-width="0.2">LAM+LDT+ADV</text>
<text x="533.00" y="771.20" font-family='"Liberation Serif", serif' font-size="9.9" font-weight="bold" text-anchor="middle" fill="#111" stroke="#111" stroke-width="0.2">LAM+LDT+ETV</text>
</svg>
</body></html>
